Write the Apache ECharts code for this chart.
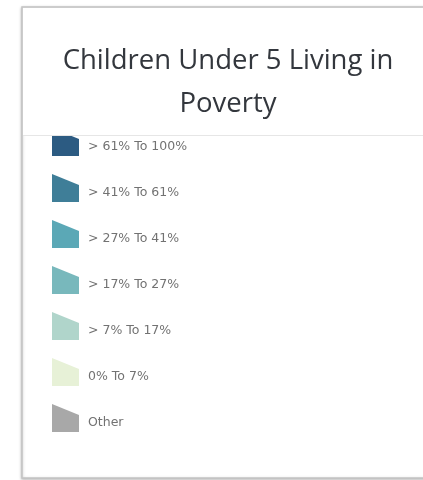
<!DOCTYPE html>
<html>
<head>
<meta charset="utf-8">
<script src="https://cdn.jsdelivr.net/npm/echarts@6/dist/echarts.min.js"></script>
<style>
  html, body { margin: 0; padding: 0; background: #fff; }
  #main { width: 423px; height: 480px; }
</style>
</head>
<body>
<div id="main"></div>
<script>
  // legend classes (poverty share of children under 5)
  var classNames = ['> 61% To 100%', '> 41% To 61%', '> 27% To 41%', '> 17% To 27%', '> 7% To 17%', '0% To 7%', 'Other']
  var classColors = ['#2c5b82', '#3f7e98', '#5ba8b6', '#78b8bc', '#b0d5cb', '#e7f1d7', '#a8a8a8']

  var chart = echarts.init(document.getElementById('main'))

  // swatch shape: square with the top right corner cut down
  var swatch = 'path://M0,0 L27,11 L27,28 L0,28 Z'

  var series = []
  for (var i = 0; i < classNames.length; i++) {
    series.push({
      name: classNames[i],
      type: 'bar',
      data: [],
      itemStyle: {color: classColors[i]}
    })
  }

  chart.setOption({
    animation: false,
    title: {
      text: 'Children Under 5 Living in\nPoverty',
      left: 223,
      top: 35,
      textAlign: 'center',
      z: 20,
      textStyle: {
        fontFamily: 'Open Sans',
        fontSize: 27.5,
        fontWeight: 'normal',
        color: '#33373d',
        lineHeight: 43
      }
    },
    xAxis: {show: false},
    yAxis: {show: false},
    legend: {
      orient: 'vertical',
      left: 52,
      top: 128,
      padding: 0,
      itemWidth: 27,
      itemHeight: 28,
      itemGap: 18,
      selectedMode: false,
      icon: swatch,
      data: classNames,
      formatter: function (name) {
        return '{t|' + name + '}'
      },
      textStyle: {
        fontFamily: 'DejaVu Sans',
        fontSize: 12.5,
        color: '#727272',
        padding: [0, 0, 0, 4],
        rich: {
          t: {
            fontFamily: 'DejaVu Sans',
            fontSize: 12.5,
            color: '#727272',
            padding: [9, 0, 0, 0]
          }
        }
      }
    },
    graphic: [
      {
        // card
        type: 'rect',
        z: 0,
        shape: {x: 22, y: 7, width: 420, height: 471},
        style: {fill: '#fff', stroke: '#c4c4c4', lineWidth: 1.5, shadowBlur: 3, shadowColor: 'rgba(0,0,0,0.25)', shadowOffsetX: 0, shadowOffsetY: 1}
      },
      {
        // header area hides top of first swatch
        type: 'rect',
        z: 10,
        shape: {x: 23, y: 8, width: 400, height: 127},
        style: {fill: '#fff'}
      },
      {
        type: 'line',
        z: 11,
        shape: {x1: 23, y1: 135.5, x2: 423, y2: 135.5},
        style: {stroke: '#e6e6e6', lineWidth: 1}
      }
    ],
    series: series
  })
</script>
</body>
</html>
